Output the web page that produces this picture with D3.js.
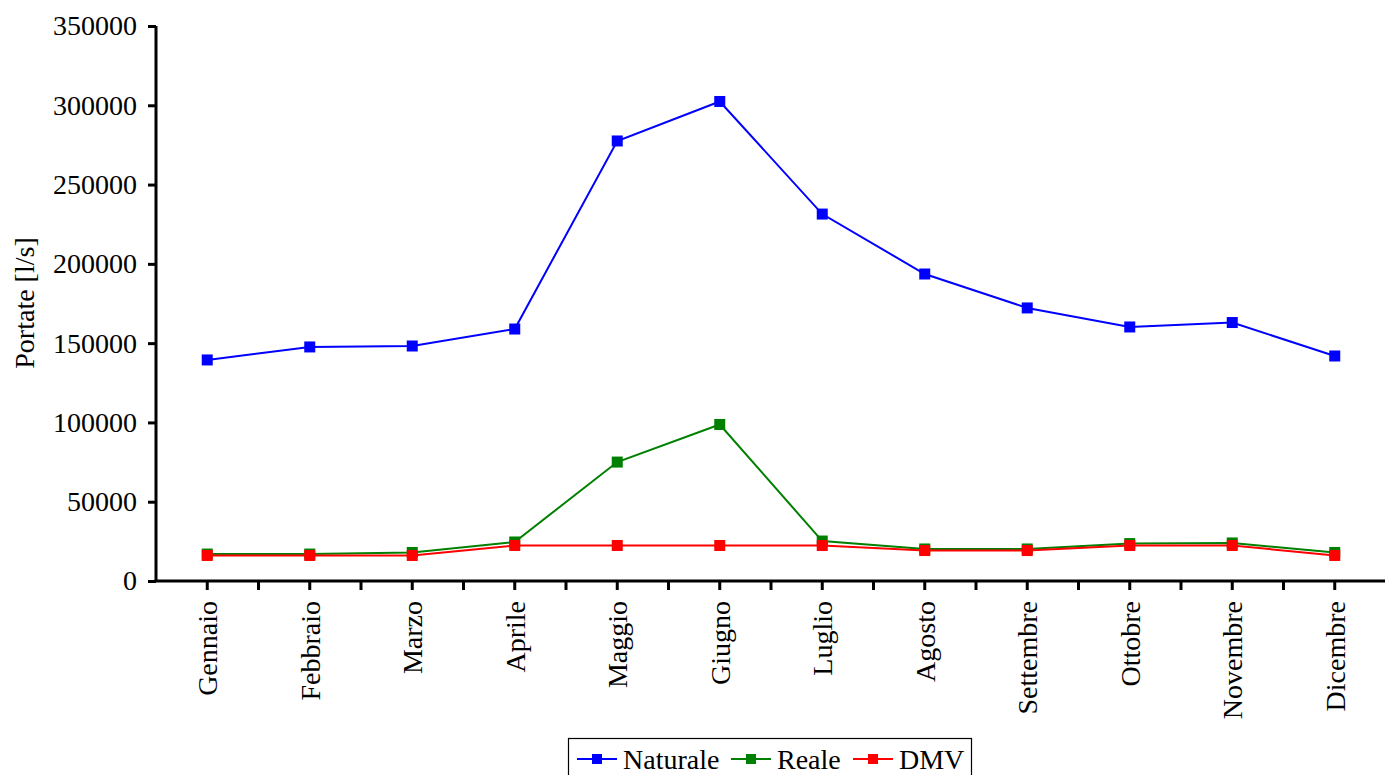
<!DOCTYPE html>
<html><head><meta charset="utf-8">
<script src="https://cdn.jsdelivr.net/npm/d3@7"></script>
<style>
html,body{margin:0;padding:0;background:#fff;}
text{font-family:"Liberation Serif","Times New Roman",serif;}
</style></head>
<body><svg id="c" width="1385" height="775"></svg>
<script>
const categories = ["Gennaio","Febbraio","Marzo","Aprile","Maggio","Giugno","Luglio","Agosto","Settembre","Ottobre","Novembre","Dicembre"];
const naturale = [139400,147600,148200,158900,277500,302400,231400,193600,172200,160200,163000,141900];
const reale = [17000,17000,18000,24600,75000,98700,25200,20200,20200,23600,24000,18000];
const dmv = [16100,16100,16100,22400,22400,22400,22400,19200,19200,22400,22400,16100];
const yTicks = [0,50000,100000,150000,200000,250000,300000,350000];
const seriesNames = ["Naturale","Reale","DMV"];
const seriesColors = ["#0000ff","#008000","#ff0000"];

const svg = d3.select("#c");
const x0 = 156, x1 = 1386, yTop = 26, yBot = 581;
const x = d3.scaleBand().domain(categories).range([x0, x1]);
const y = d3.scaleLinear().domain([0,350000]).range([yBot, yTop]);
const fs = 28;

// Y axis
const ya = svg.append("g").attr("transform", `translate(${x0},0)`)
  .call(d3.axisLeft(y).tickValues(yTicks).tickSize(8).tickPadding(11).tickFormat(d3.format("d")));
ya.select(".domain").attr("stroke","#000").attr("stroke-width",3).attr("d", `M0,${yTop}V${yBot}`);
ya.selectAll(".tick line").attr("stroke","#000").attr("stroke-width",3);
ya.selectAll(".tick text").attr("font-size",fs).attr("fill","#000").attr("font-family","Liberation Serif");

// X axis: ticks at centers and boundaries
const xa = svg.append("g").attr("transform", `translate(0,${yBot})`);
xa.append("line").attr("x1", x0-1.5).attr("x2", 1385).attr("stroke","#000").attr("stroke-width",3);
const bw = x.bandwidth();
const tickPos = [];
categories.forEach((c,i)=>{ tickPos.push(x(c)); tickPos.push(x(c)+bw/2); });
xa.selectAll("line.t").data(tickPos.filter(p=>p>x0+2)).enter().append("line")
  .attr("class","t").attr("x1",d=>d).attr("x2",d=>d).attr("y1",0).attr("y2",9)
  .attr("stroke","#000").attr("stroke-width",3);
xa.selectAll("text").data(categories).enter().append("text")
  .attr("transform", d=>`translate(${x(d)+bw/2},${20}) rotate(-90)`)
  .attr("text-anchor","end").attr("dy","0.35em").attr("font-size",fs).attr("fill","#000")
  .text(d=>d);

// Y label
svg.append("text").attr("transform", `translate(34,${303}) rotate(-90)`)
  .attr("text-anchor","middle").attr("font-size",fs).attr("fill","#000").text("Portate [l/s]");

// Series
const allSeries = [naturale, reale, dmv];
const line = d3.line().x((d,i)=>x(categories[i])+bw/2).y(d=>y(d));
allSeries.forEach((s,k)=>{
  const g = svg.append("g");
  g.append("path").datum(s).attr("d",line).attr("fill","none")
    .attr("stroke",seriesColors[k]).attr("stroke-width",2);
  g.selectAll("rect").data(s).enter().append("rect")
    .attr("x",(d,i)=>x(categories[i])+bw/2-5.5).attr("y",d=>y(d)-5.5)
    .attr("width",11).attr("height",11).attr("fill",seriesColors[k]);
});

// Legend
const lg = svg.append("g");
lg.append("rect").attr("x",568.5).attr("y",738.5).attr("width",403).attr("height",45)
  .attr("fill","#fff").attr("stroke","#000").attr("stroke-width",1.2);
const legX = [577, 731, 853];
seriesNames.forEach((n,k)=>{
  const lx = legX[k], ly = 759;
  lg.append("line").attr("x1",lx).attr("x2",lx+40).attr("y1",ly).attr("y2",ly)
    .attr("stroke",seriesColors[k]).attr("stroke-width",2);
  lg.append("rect").attr("x",lx+20-5).attr("y",ly-5).attr("width",10).attr("height",10).attr("fill",seriesColors[k]);
  lg.append("text").attr("x",lx+46).attr("y",ly).attr("dy","0.35em").attr("font-size",fs).attr("fill","#000").text(n);
});
</script></body></html>
